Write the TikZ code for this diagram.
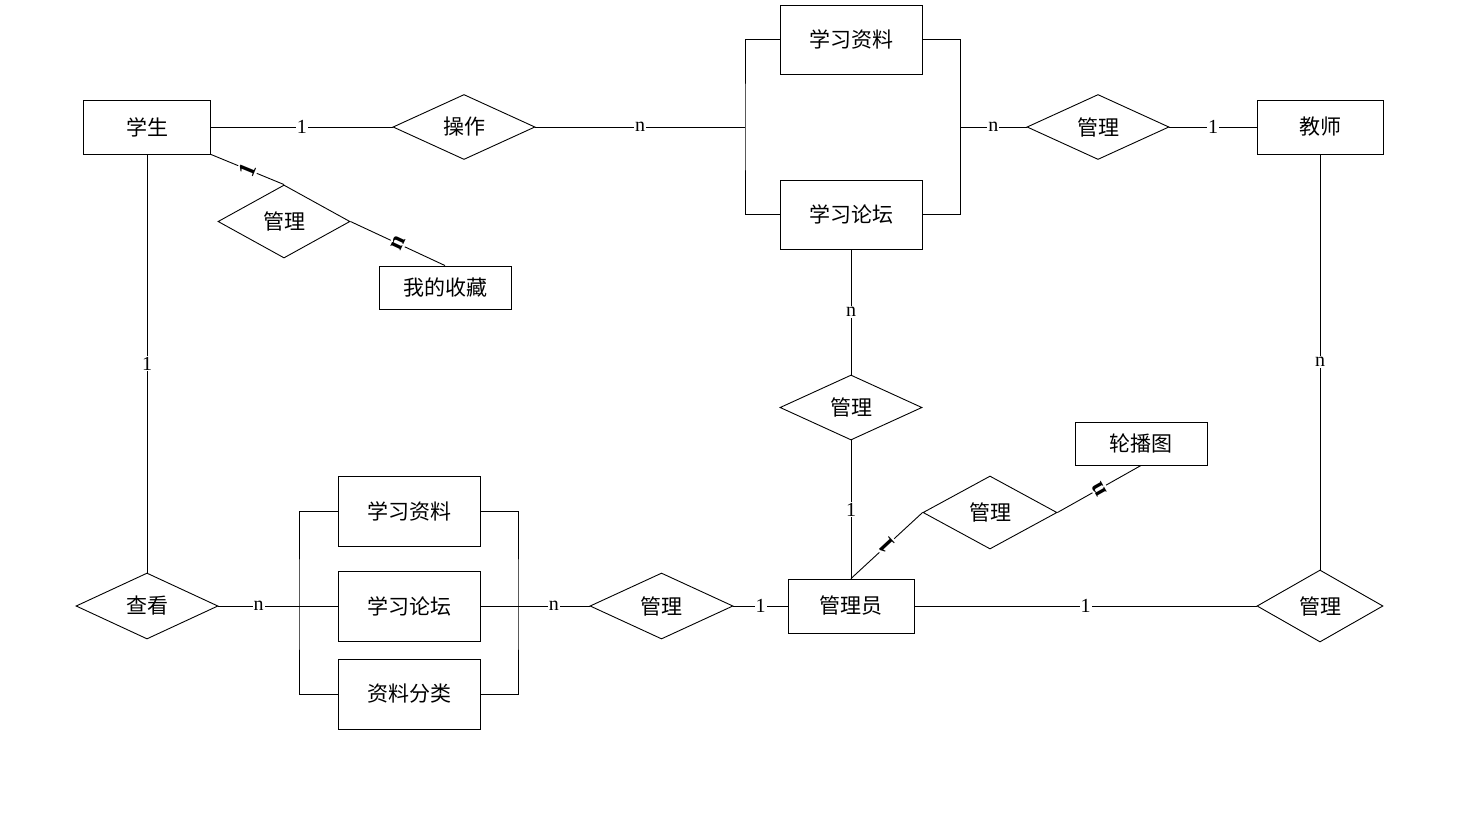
\documentclass[tikz,border=0pt]{standalone}
\usepackage{fontspec}
\setmainfont{Liberation Serif}
\newfontfamily\cjk{Noto Sans CJK SC}
\usetikzlibrary{shapes.geometric}
\tikzset{
  ent/.style={draw, line width=0.9pt, inner sep=0pt, font=\cjk\fontsize{21}{24}\selectfont},
  rel/.style={draw, diamond, line width=0.9pt, inner sep=0pt, font=\cjk\fontsize{21}{24}\selectfont},
  card/.style={fill=white, inner sep=1pt, font=\fontsize{20}{22}\selectfont},
  scard/.style={fill=white, inner sep=2pt, sloped, rotate=90, font=\fontsize{24}{26}\selectfont\bfseries},
  conn/.style={line width=0.9pt},
}
\begin{document}
\begin{tikzpicture}[x=1pt,y=-1pt]
\useasboundingbox (0,0) rectangle (1457,823);
% entities
\node[ent, minimum width=127, minimum height=54] (xs) at (147,127) {学生};
\node[ent, minimum width=126, minimum height=54] (js) at (1320,127) {教师};
\node[ent, minimum width=142, minimum height=69] (tz) at (851,39.5) {学习资料};
\node[ent, minimum width=142, minimum height=69] (tl) at (851,214.5) {学习论坛};
\node[ent, minimum width=132, minimum height=43] (sc) at (445,287.5) {我的收藏};
\node[ent, minimum width=132, minimum height=43] (lb) at (1141,443.5) {轮播图};
\node[ent, minimum width=126, minimum height=54] (gly) at (851,606) {管理员};
\node[ent, minimum width=142, minimum height=70] (bz) at (409,511) {学习资料};
\node[ent, minimum width=142, minimum height=70] (bl) at (409,606) {学习论坛};
\node[ent, minimum width=142, minimum height=70] (bf) at (409,694) {资料分类};
% relationships
\node[rel, minimum width=142, minimum height=65] (cz) at (464,127) {操作};
\node[rel, minimum width=142, minimum height=65] (gj) at (1098,127) {管理};
\node[rel, minimum width=132, minimum height=73] (gs) at (284,221.5) {管理};
\node[rel, minimum width=142, minimum height=66] (ck) at (147,606) {查看};
\node[rel, minimum width=143, minimum height=66] (gb) at (661.5,606) {管理};
\node[rel, minimum width=142, minimum height=65] (gm) at (851,407.5) {管理};
\node[rel, minimum width=134, minimum height=73] (gl) at (990,512.5) {管理};
\node[rel, minimum width=126, minimum height=72] (gr) at (1320,606) {管理};
% bracket points
\coordinate (tL) at (745,127);
\coordinate (tR) at (960,127);
\coordinate (bL) at (299,606);
\coordinate (bR) at (518,606);
% top bracket
\draw[conn] (tz.west) -| (tL) |- (tl.west);
\draw[conn] (tz.east) -| (tR) |- (tl.east);
% bottom bracket
\draw[conn] (bz.west) -| (bL) |- (bf.west);
\draw[conn] (bz.east) -| (bR) |- (bf.east);
\draw[conn] (bL) -- (bl.west);
\draw[conn] (bl.east) -- (bR);
% connectors
\draw[conn] (xs.east) -- node[card]{1} (cz.west);
\draw[conn] (cz.east) -- node[card]{n} (tL);
\draw[conn] (tR) -- node[card]{n} (gj.west);
\draw[conn] (gj.east) -- node[card]{1} (js.west);
\draw[conn] (xs.south) -- node[card]{1} (ck.north);
\draw[conn] (js.south) -- node[card]{n} (gr.north);
\draw[conn] (ck.east) -- node[card]{n} (bL);
\draw[conn] (bR) -- node[card]{n} (gb.west);
\draw[conn] (gb.east) -- node[card]{1} (gly.west);
\draw[conn] (gly.east) -- node[card]{1} (gr.west);
\draw[conn] (tl.south) -- node[card]{n} (gm.north);
\draw[conn] (gm.south) -- node[card]{1} (gly.north);
\draw[conn] (xs.south east) -- node[scard]{1} (gs.north);
\draw[conn] (gs.east) -- node[scard]{n} (sc.north);
\draw[conn] (gly.north) -- node[scard]{1} (gl.west);
\draw[conn] (gl.east) -- node[scard]{n} (lb.south);
\end{tikzpicture}
\end{document}
